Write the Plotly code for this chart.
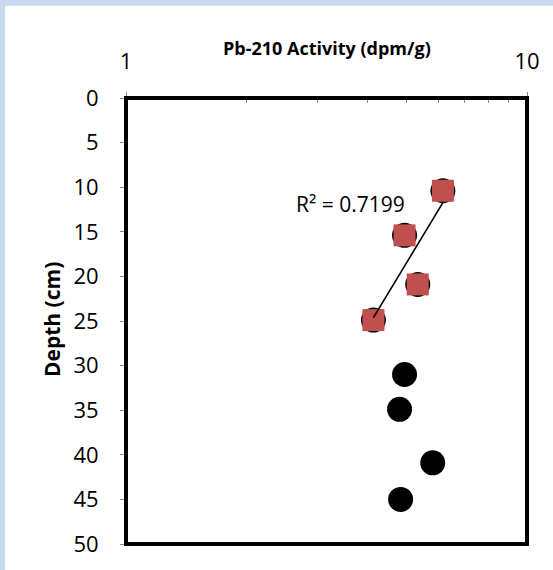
import numpy as np
import plotly.graph_objects as go

# Data
activity_all = [6.17, 4.95, 5.34, 4.14, 4.95, 4.81, 5.82, 4.84]
depth_all = [10.4, 15.4, 20.9, 24.9, 31.0, 34.9, 40.9, 45.0]
activity_fit = [6.17, 4.95, 5.34, 4.14]
depth_fit = [10.4, 15.4, 20.9, 24.9]
x_ticks = [1, 10]
y_ticks = list(range(0, 55, 5))
r2_label = "R² = 0.7199"

W, H = 553, 570
L, R, T, B = 126, 26, 98, 22
pw, ph = W - L - R, H - T - B

def px(x):
    return (x - L) / pw

def py(y):
    return 1 - (y - T) / ph

FONT = "Open Sans"

# logarithmic trendline (straight on log axis)
lx = np.log10(np.array(activity_fit))
b, a = np.polyfit(lx, np.array(depth_fit), 1)
xe = np.array([min(activity_fit), max(activity_fit)])
ye = a + b * np.log10(xe)

fig = go.Figure()
fig.add_trace(go.Scatter(x=activity_all, y=depth_all, mode="markers",
                         marker=dict(symbol="circle", size=25, color="black", line=dict(width=0)),
                         showlegend=False, hoverinfo="skip"))
fig.add_trace(go.Scatter(x=activity_fit, y=depth_fit, mode="markers",
                         marker=dict(symbol="square", size=22, color="#c0504d", line=dict(width=0)),
                         showlegend=False))
fig.add_trace(go.Scatter(x=xe, y=ye, mode="lines", line=dict(color="black", width=1.6),
                         showlegend=False, hoverinfo="skip"))

fig.update_layout(
    width=W, height=H,
    margin=dict(l=L, r=R, t=T, b=B),
    paper_bgcolor="#c9d7ef",
    plot_bgcolor="white",
    font=dict(family=FONT, size=22, color="black"),
    xaxis=dict(type="log", range=[0, 1], side="top", tickvals=x_ticks, ticktext=[str(v) for v in x_ticks],
               showgrid=False, zeroline=False, showline=True, linecolor="#888", linewidth=1,
               ticks="outside", ticklen=5, tickcolor="#888", ticklabelstandoff=14,
               minor=dict(tickvals=[2, 3, 4, 5, 6, 7, 8, 9], ticks="inside", ticklen=5, tickcolor="#888",
                          showgrid=False),
               tickfont=dict(size=22, family=FONT)),
    yaxis=dict(range=[50, 0], tickvals=y_ticks, showgrid=False, zeroline=False,
               showline=True, linecolor="#888", linewidth=1, ticks="outside", ticklen=5,
               tickcolor="#888", ticklabelstandoff=17, tickfont=dict(size=22, family=FONT)),
    shapes=[
        dict(type="rect", xref="paper", yref="paper", x0=px(5), x1=px(W + 10), y0=py(H + 10), y1=py(5),
             fillcolor="white", line=dict(width=0), layer="below"),
        dict(type="rect", xref="paper", yref="paper", x0=0, x1=1, y0=0, y1=1,
             line=dict(color="black", width=4), fillcolor="rgba(0,0,0,0)", layer="above"),
    ],
    annotations=[
        dict(text="<b>Pb-210 Activity (dpm/g)</b>", xref="paper", yref="paper", x=px(327), y=py(48),
             showarrow=False, font=dict(size=18, family=FONT), xanchor="center", yanchor="middle"),
        dict(text="<b>Depth (cm)</b>", xref="paper", yref="paper", x=px(52), y=py(322), textangle=-90,
             showarrow=False, font=dict(size=21, family=FONT), xanchor="center", yanchor="middle"),
        dict(text=r2_label, xref="paper", yref="paper", x=px(350), y=py(205),
             showarrow=False, font=dict(size=21, family=FONT), xanchor="center", yanchor="middle"),
    ],
)

fig.write_html("out.html")
